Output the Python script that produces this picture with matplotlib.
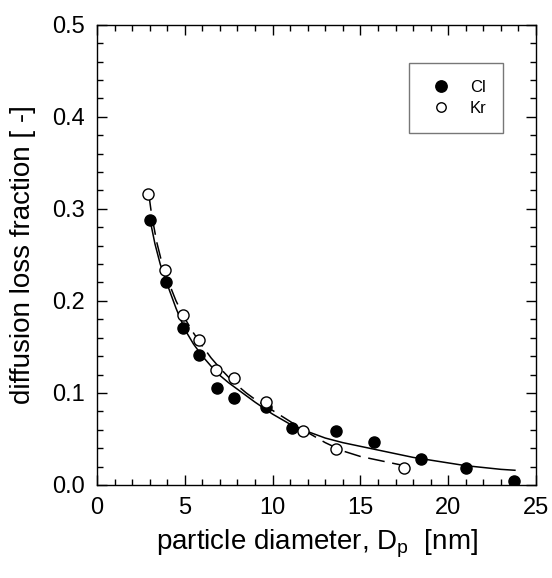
import numpy as np
import matplotlib.pyplot as plt
from matplotlib.lines import Line2D
from matplotlib.ticker import MultipleLocator

plt.rcParams['font.family'] = ['Liberation Sans', 'DejaVu Sans']
plt.rcParams['mathtext.fontset'] = 'custom'
plt.rcParams['mathtext.rm'] = 'Liberation Sans'

# measured points
cl_x = [3.0, 3.93, 4.92, 5.83, 6.81, 7.80, 9.60, 11.08, 13.59, 15.79, 18.48, 20.99, 23.76]
cl_y = [0.288, 0.220, 0.171, 0.141, 0.105, 0.095, 0.085, 0.062, 0.059, 0.047, 0.028, 0.019, 0.004]
kr_x = [2.92, 3.87, 4.88, 5.83, 6.78, 7.82, 9.60, 11.75, 13.59, 17.50]
kr_y = [0.316, 0.233, 0.185, 0.158, 0.125, 0.116, 0.090, 0.059, 0.039, 0.019]

# fitted curves
cl_fit_x = [3.0, 3.3, 3.6, 4.0, 4.5, 5.0, 5.5, 6.0, 6.5, 7.0, 7.5, 8.0, 9.0, 10.0,
            11.0, 12.0, 13.0, 14.0, 15.0, 16.0, 17.0, 18.0, 19.0, 20.0, 21.0, 22.0, 23.0, 23.8]
cl_fit_y = [0.290, 0.262, 0.240, 0.218, 0.192, 0.169, 0.153, 0.140, 0.129, 0.119, 0.111, 0.104,
            0.090, 0.077, 0.066, 0.058, 0.051, 0.046, 0.042, 0.038, 0.034, 0.030, 0.027, 0.024,
            0.021, 0.019, 0.017, 0.016]
kr_fit_x = [2.95, 3.1, 3.4, 3.7, 4.0, 4.5, 5.0, 5.5, 6.0, 6.5, 7.0, 7.5, 8.0, 8.5, 9.0, 9.5,
            10.0, 11.0, 12.0, 13.0, 14.0, 15.0, 16.0, 17.0, 17.5]
kr_fit_y = [0.316, 0.295, 0.264, 0.241, 0.224, 0.200, 0.181, 0.165, 0.151, 0.138, 0.127, 0.117,
            0.108, 0.100, 0.093, 0.087, 0.081, 0.069, 0.057, 0.046, 0.037, 0.031, 0.027, 0.023, 0.021]

fig = plt.figure(figsize=(5.52, 5.78), dpi=100)
ax = fig.add_axes([0.1757, 0.1609, 0.7953, 0.7964])

ax.plot(cl_fit_x, cl_fit_y, color='black', lw=1.1)
ax.plot(kr_fit_x, kr_fit_y, color='black', lw=1.1, dashes=(11, 5))
ax.plot(cl_x, cl_y, 'o', ms=8, mfc='black', mec='black', mew=1)
ax.plot(kr_x, kr_y, 'o', ms=8, mfc='white', mec='black', mew=1)

ax.set_xlim(0, 25)
ax.set_ylim(0, 0.5)
ax.xaxis.set_major_locator(MultipleLocator(5))
ax.xaxis.set_minor_locator(MultipleLocator(1))
ax.yaxis.set_major_locator(MultipleLocator(0.1))
ax.yaxis.set_minor_locator(MultipleLocator(0.02))
ax.yaxis.set_major_formatter(plt.FormatStrFormatter('%.1f'))
ax.tick_params(which='both', direction='in', top=True, right=True, labelsize=17, width=1)
ax.tick_params(which='major', length=7, pad=9)
ax.tick_params(which='minor', length=4)
for s in ax.spines.values():
    s.set_linewidth(1)

ax.set_xlabel(r'particle diameter, D$_\mathregular{p}$  [nm]', fontsize=20, labelpad=6)
ax.set_ylabel('diffusion loss fraction [ -]', fontsize=20, labelpad=11)

handles = [Line2D([], [], ls='none', marker='o', ms=8.2, mfc='black', mec='black'),
           Line2D([], [], ls='none', marker='o', ms=6.8, mfc='white', mec='black')]
leg = ax.legend(handles, ['Cl', 'Kr'], loc='upper left', bbox_to_anchor=(0.711, 0.917),
                fontsize=12, frameon=True, fancybox=False, edgecolor='#555555',
                borderpad=1.0, handletextpad=0.82, labelspacing=0.38, handlelength=1.83,
                borderaxespad=0)
leg.get_frame().set_linewidth(1)

fig.savefig('out.png', dpi=100)
